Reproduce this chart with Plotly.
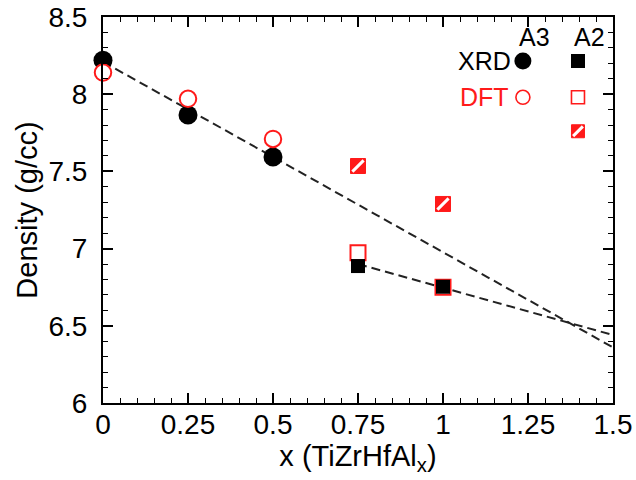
import plotly.graph_objects as go

# Measured densities (g/cc) versus Al content x in TiZrHfAl_x
x_a3 = [0, 0.25, 0.5]
xrd_a3 = [8.22, 7.865, 7.593]
dft_a3 = [8.14, 7.97, 7.71]

x_a2 = [0.75, 1.0]
xrd_a2 = [6.887, 6.753]
dft_a2 = [6.973, 6.75]
dft_a2_ordered = [7.535, 7.289]

# Dashed guide lines
fit_a3_x = [0, 1.5]
fit_a3_y = [8.21, 6.36]
fit_a2_x = [0.75, 1.5]
fit_a2_y = [6.90, 6.44]

RED = "#ff1a1a"
FONT = "Liberation Sans, Arial, Helvetica, sans-serif"

fig = go.Figure()

dash_line = dict(color="#222222", width=2, dash="9px,5px")
fig.add_trace(go.Scatter(x=fit_a3_x, y=fit_a3_y, mode="lines", line=dash_line, showlegend=False))
fig.add_trace(go.Scatter(x=fit_a2_x, y=fit_a2_y, mode="lines", line=dash_line, showlegend=False))

# A3 phase: XRD filled circles, DFT open circles drawn on top
fig.add_trace(go.Scatter(x=x_a3, y=xrd_a3, mode="markers", cliponaxis=False,
                         marker=dict(symbol="circle", size=19, color="black", line=dict(width=0)),
                         showlegend=False))
fig.add_trace(go.Scatter(x=x_a3, y=dft_a3, mode="markers", cliponaxis=False,
                         marker=dict(symbol="circle", size=16.5, color="white",
                                     line=dict(color=RED, width=2)),
                         showlegend=False))

# A2 phase: DFT open squares beneath XRD filled squares
fig.add_trace(go.Scatter(x=x_a2, y=dft_a2, mode="markers",
                         marker=dict(symbol="square", size=15, color="white",
                                     line=dict(color=RED, width=2)),
                         showlegend=False))
fig.add_trace(go.Scatter(x=x_a2, y=xrd_a2, mode="markers",
                         marker=dict(symbol="square", size=14, color="black", line=dict(width=0)),
                         showlegend=False))

# Hatched DFT squares: red square with a white diagonal stripe
def hatched(xs, ys, size):
    fig.add_trace(go.Scatter(x=xs, y=ys, mode="markers",
                             marker=dict(symbol="square", size=size, color=RED,
                                         line=dict(color=RED, width=1)),
                             showlegend=False))
    fig.add_trace(go.Scatter(x=xs, y=ys, mode="markers",
                             marker=dict(symbol="line-ne", size=size * 0.75,
                                         line=dict(color="white", width=3)),
                             showlegend=False))

hatched(x_a2, dft_a2_ordered, 15)

# Key in the upper-right corner
key_x_a3, key_x_a2 = 1.235, 1.397
key_y = [8.215, 7.98, 7.76]
fig.add_trace(go.Scatter(x=[key_x_a3], y=[key_y[0]], mode="markers",
                         marker=dict(symbol="circle", size=17, color="black"), showlegend=False))
fig.add_trace(go.Scatter(x=[key_x_a2], y=[key_y[0]], mode="markers",
                         marker=dict(symbol="square", size=14, color="black"), showlegend=False))
fig.add_trace(go.Scatter(x=[key_x_a3], y=[key_y[1]], mode="markers",
                         marker=dict(symbol="circle", size=14, color="white",
                                     line=dict(color=RED, width=1.6)), showlegend=False))
fig.add_trace(go.Scatter(x=[key_x_a2], y=[key_y[1]], mode="markers",
                         marker=dict(symbol="square", size=13, color="white",
                                     line=dict(color=RED, width=1.6)), showlegend=False))
hatched([key_x_a2], [key_y[2]], 13)

key_font = dict(family=FONT, size=25)
fig.add_annotation(x=key_x_a3 + 0.035, y=8.37, text="A3", showarrow=False, font=dict(key_font, color="black"))
fig.add_annotation(x=key_x_a2 + 0.035, y=8.37, text="A2", showarrow=False, font=dict(key_font, color="black"))
fig.add_annotation(x=key_x_a3 - 0.03, y=key_y[0], text="XRD", showarrow=False, xanchor="right",
                   font=dict(key_font, color="black"))
fig.add_annotation(x=key_x_a3 - 0.035, y=key_y[1], text="DFT", showarrow=False, xanchor="right",
                   font=dict(key_font, color=RED))

axis_common = dict(
    showline=True, linecolor="black", linewidth=2, mirror="allticks",
    ticks="inside", ticklen=10, tickwidth=1.5, tickcolor="black",
    showgrid=False, zeroline=False, automargin=False,
    tickfont=dict(family=FONT, size=28, color="black"),
)

fig.update_xaxes(
    range=[0, 1.5], tickvals=[0, 0.25, 0.5, 0.75, 1, 1.25, 1.5],
    ticktext=["0", "0.25", "0.5", "0.75", "1", "1.25", "1.5"],
    minor=dict(dtick=0.05, ticks="inside", ticklen=5, tickwidth=1.2, tickcolor="black", showgrid=False),
    title=dict(text="x (TiZrHfAl<sub>x</sub>)", font=dict(family=FONT, size=29, color="black"), standoff=1),
    ticklabelstandoff=-5,
    **axis_common,
)
fig.update_yaxes(
    range=[6, 8.5], tickvals=[6, 6.5, 7, 7.5, 8, 8.5],
    ticktext=["6", "6.5", "7", "7.5", "8", "8.5"],
    minor=dict(dtick=0.1, ticks="inside", ticklen=5, tickwidth=1.2, tickcolor="black", showgrid=False),
    title=dict(text="Density (g/cc)", font=dict(family=FONT, size=29, color="black"), standoff=2),
    ticklabelstandoff=8,
    **axis_common,
)

fig.update_layout(
    width=636, height=480,
    margin=dict(l=103, r=23, t=17, b=77),
    plot_bgcolor="white", paper_bgcolor="white",
    showlegend=False,
)

fig.write_html("out.html")
